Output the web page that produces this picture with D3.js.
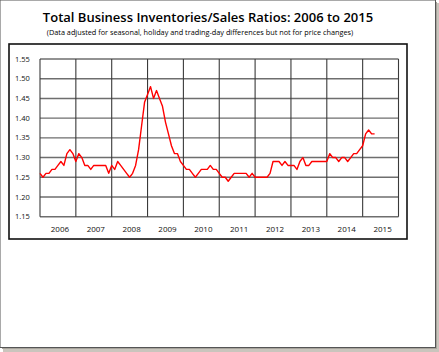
<!DOCTYPE html>
<html>
<head>
<meta charset="utf-8">
<script src="https://cdn.jsdelivr.net/npm/d3@7"></script>
<style>
  body { margin: 0; background: #fff; }
  svg { display: block; }
</style>
</head>
<body>
<div id="chart"></div>
<script>
// monthly ratios, Jan 2006 .. May 2015
const years = ["2006", "2007", "2008", "2009", "2010", "2011", "2012", "2013", "2014", "2015"];
const yTicks = [1.15, 1.20, 1.25, 1.30, 1.35, 1.40, 1.45, 1.50, 1.55];
const ratios = [
  1.26, 1.25, 1.26, 1.26, 1.27, 1.27, 1.28, 1.29, 1.28, 1.31, 1.32, 1.31, // 2006
  1.29, 1.31, 1.30, 1.28, 1.28, 1.27, 1.28, 1.28, 1.28, 1.28, 1.28, 1.26, // 2007
  1.28, 1.27, 1.29, 1.28, 1.27, 1.26, 1.25, 1.26, 1.28, 1.32, 1.38, 1.44, // 2008
  1.46, 1.48, 1.45, 1.47, 1.45, 1.43, 1.39, 1.36, 1.33, 1.31, 1.31, 1.29, // 2009
  1.28, 1.27, 1.27, 1.26, 1.25, 1.26, 1.27, 1.27, 1.27, 1.28, 1.27, 1.27, // 2010
  1.26, 1.25, 1.25, 1.24, 1.25, 1.26, 1.26, 1.26, 1.26, 1.26, 1.25, 1.26, // 2011
  1.25, 1.25, 1.25, 1.25, 1.25, 1.26, 1.29, 1.29, 1.29, 1.28, 1.29, 1.28, // 2012
  1.28, 1.28, 1.27, 1.29, 1.30, 1.28, 1.28, 1.29, 1.29, 1.29, 1.29, 1.29, // 2013
  1.29, 1.31, 1.30, 1.30, 1.29, 1.30, 1.30, 1.29, 1.30, 1.31, 1.31, 1.32, // 2014
  1.33, 1.36, 1.37, 1.36, 1.36                                            // 2015
];
const title = "Total Business Inventories/Sales Ratios: 2006 to 2015";
const subtitle = "(Data adjusted for seasonal, holiday and trading-day differences but not for price changes)";

const W = 439, H = 352;
const plot = {left: 40, right: 398.5, top: 59, bottom: 216.7};

const svg = d3.select("#chart").append("svg")
  .attr("width", W)
  .attr("height", H);

// picture frame with drop shadow
svg.append("rect").attr("x", 3).attr("y", 3).attr("width", 436).attr("height", 349).attr("fill", "#c9c5bd");
svg.append("rect").attr("x", 2).attr("y", 2).attr("width", 435).attr("height", 347).attr("fill", "#a8a49c");
svg.append("rect").attr("x", 0).attr("y", 0).attr("width", 435.5).attr("height", 347.5)
  .attr("fill", "#fff").attr("stroke", "#555").attr("stroke-width", 1);

// title
svg.append("text")
  .attr("x", 208).attr("y", 22)
  .attr("text-anchor", "middle")
  .attr("font-family", "Open Sans")
  .attr("font-weight", 600)
  .attr("font-size", 13)
  .attr("fill", "#000")
  .text(title);

svg.append("text")
  .attr("x", 200).attr("y", 35)
  .attr("text-anchor", "middle")
  .attr("font-family", "Open Sans")
  .attr("font-size", 7.3)
  .attr("fill", "#000")
  .text(subtitle);

// chart box
svg.append("rect")
  .attr("x", 9).attr("y", 44).attr("width", 398).attr("height", 195)
  .attr("fill", "none").attr("stroke", "#111").attr("stroke-width", 1.6);

const x = d3.scaleLinear()
  .domain([0, years.length * 12])
  .range([plot.left, plot.right]);

const y = d3.scaleLinear()
  .domain([1.15, 1.55])
  .range([plot.bottom, plot.top]);

const g = svg.append("g");

// horizontal gridlines
g.selectAll(".hgrid")
  .data(yTicks)
  .enter().append("line")
  .attr("x1", plot.left).attr("x2", plot.right)
  .attr("y1", d => y(d)).attr("y2", d => y(d))
  .attr("stroke", "#6e6e6e")
  .attr("stroke-width", 1.4);

// vertical gridlines at year boundaries
g.selectAll(".vgrid")
  .data(d3.range(years.length + 1))
  .enter().append("line")
  .attr("x1", d => x(d * 12)).attr("x2", d => x(d * 12))
  .attr("y1", plot.top).attr("y2", plot.bottom)
  .attr("stroke", "#3a3a3a")
  .attr("stroke-width", 1.1);

// y labels
g.selectAll(".ylab")
  .data(yTicks)
  .enter().append("text")
  .attr("x", 15)
  .attr("y", d => y(d))
  .attr("dy", "0.35em")
  .attr("font-family", "Open Sans")
  .attr("font-size", 7.5)
  .attr("fill", "#111")
  .text(d => d.toFixed(2));

// x labels
g.selectAll(".xlab")
  .data(years)
  .enter().append("text")
  .attr("x", (d, i) => x(i * 12 + 6) + 2)
  .attr("y", 229)
  .attr("dy", "0.35em")
  .attr("text-anchor", "middle")
  .attr("font-family", "Open Sans")
  .attr("font-size", 8)
  .attr("fill", "#111")
  .text(d => d);

const line = d3.line()
  .x((d, i) => x(i))
  .y(d => y(d));

g.append("path")
  .datum(ratios)
  .attr("d", line)
  .attr("fill", "none")
  .attr("stroke", "#f00")
  .attr("stroke-width", 1.4)
  .attr("stroke-linejoin", "round");
</script>
</body>
</html>
